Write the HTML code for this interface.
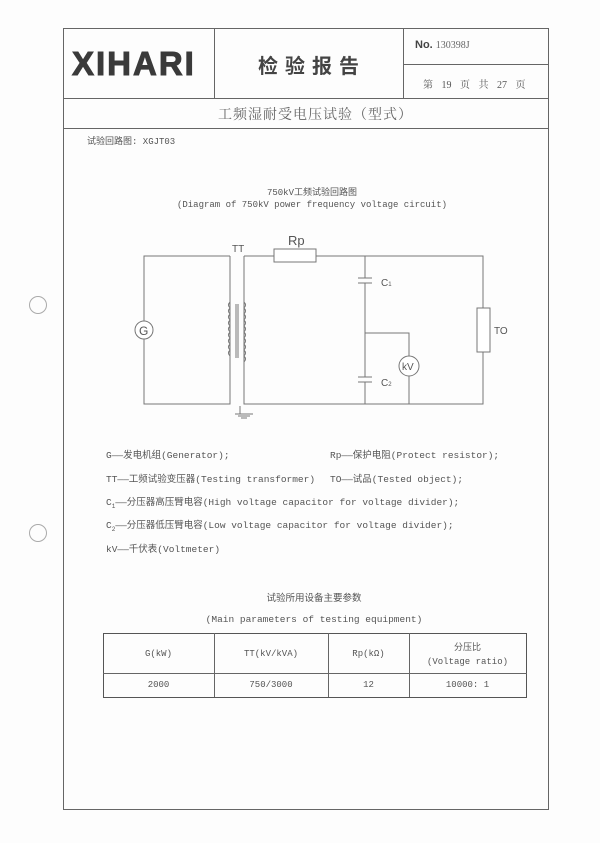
<!DOCTYPE html>
<html><head><meta charset="utf-8"><style>
body{margin:0;background:#fff;}
.p{position:relative;width:600px;height:843px;background:#fdfdfd;overflow:hidden;font-family:"Liberation Mono","Noto Sans CJK SC",monospace;color:#555;}
.a{position:absolute;white-space:nowrap;}
.l{position:absolute;background:#666;}
.s{font-family:"Liberation Serif","Noto Serif CJK SC",serif;}
</style></head><body><div class="p">
<div class="a" style="left:29px;top:296px;width:16px;height:16px;border:1px solid #aaa;border-radius:50%"></div>
<div class="a" style="left:29px;top:524px;width:16px;height:16px;border:1px solid #aaa;border-radius:50%"></div>
<div class="a" style="left:63px;top:28px;width:484px;height:780px;border:1px solid #666"></div>
<div class="l" style="left:63px;top:98px;width:486px;height:1px"></div>
<div class="l" style="left:63px;top:128px;width:486px;height:1px"></div>
<div class="l" style="left:214px;top:28px;width:1px;height:70px"></div>
<div class="l" style="left:403px;top:28px;width:1px;height:70px"></div>
<div class="l" style="left:403px;top:64px;width:145px;height:1px"></div>
<div class="a" style="left:72px;top:44px;font:900 33px/40px 'Liberation Sans',sans-serif;color:#3a3a3a;letter-spacing:2px;-webkit-text-stroke:1px #3a3a3a">XIHARI</div>
<div class="a" style="left:258px;top:50px;font:bold 20px 'Noto Sans CJK SC',sans-serif;color:#444;letter-spacing:7px">检验报告</div>
<div class="a" style="left:415px;top:39px;font:bold 11px 'Liberation Sans',sans-serif;color:#444">No. <span class="s" style="font-weight:normal;font-size:10px;color:#666">130398J</span></div>
<div class="a s" style="left:423px;top:76px;font-size:10px;word-spacing:6px">第 19 页 共 27 页</div>
<div class="a s" style="left:218px;top:104px;font-size:14px;letter-spacing:1px;color:#666">工频湿耐受电压试验（型式）</div>
<div class="a" style="left:87px;top:134px;font-size:9px">试验回路图: XGJT03</div>
<div class="a" style="left:0;width:600px;text-align:center;top:185px;font-size:9px;margin-left:12px">750kV工频试验回路图</div>
<div class="a" style="left:0;width:600px;text-align:center;top:200px;font-size:9px;margin-left:12px">(Diagram of 750kV power frequency voltage circuit)</div>
<svg class="a" style="left:0;top:0" width="600" height="843">
<g stroke="#777" stroke-width="1" fill="none">
<path d="M230 256H144V404H230V256"/>
<circle cx="144" cy="330" r="9" fill="#fff"/>
<path d="M244 256V404H483V256H316M274 256H244"/>
<rect x="274" y="249" width="42" height="13" fill="#fff"/>
<line x1="236" y1="304" x2="236" y2="358"/><line x1="238" y1="304" x2="238" y2="358"/>
<path d="M230 302q-3 3 0 6q-3 3 0 6q-3 3 0 6q-3 3 0 6q-3 3 0 6q-3 3 0 6q-3 3 0 6q-3 3 0 6q-3 3 0 6"/>
<path d="M244 302q3 3 0 6q3 3 0 6q3 3 0 6q3 3 0 6q3 3 0 6q3 3 0 6q3 3 0 6q3 3 0 6q3 3 0 6q3 3 0 6"/>
<path d="M365 256V278M365 283V377M365 382V404"/>
<line x1="358" y1="278" x2="372" y2="278"/><line x1="358" y1="283" x2="372" y2="283"/>
<line x1="358" y1="377" x2="372" y2="377"/><line x1="358" y1="382" x2="372" y2="382"/>
<path d="M365 333H409V404"/>
<circle cx="409" cy="366" r="10" fill="#fff"/>
<rect x="477" y="308" width="13" height="44" fill="#fff"/>
<path d="M240 406V414M235 414H253M238 416H250M241 418H247"/>
</g>
<g font-family="Liberation Sans,sans-serif" fill="#555">
<text x="139" y="335" font-size="12">G</text>
<text x="232" y="252" font-size="10">TT</text>
<text x="288" y="245" font-size="13">Rp</text>
<text x="381" y="286" font-size="10">C<tspan font-size="6">1</tspan></text>
<text x="381" y="386" font-size="10">C<tspan font-size="6">2</tspan></text>
<text x="402" y="370" font-size="10">kV</text>
<text x="494" y="334" font-size="10">TO</text>
</g>
</svg>
<div class="a" style="left:106px;top:447px;font-size:9.5px">G——发电机组(Generator);</div>
<div class="a" style="left:330px;top:447px;font-size:9.5px">Rp——保护电阻(Protect resistor);</div>
<div class="a" style="left:106px;top:471px;font-size:9.5px">TT——工频试验变压器(Testing transformer)</div>
<div class="a" style="left:330px;top:471px;font-size:9.5px">TO——试品(Tested object);</div>
<div class="a" style="left:106px;top:494px;font-size:9.5px">C<sub style="font-size:6px">1</sub>——分压器高压臂电容(High voltage capacitor for voltage divider);</div>
<div class="a" style="left:106px;top:517px;font-size:9.5px">C<sub style="font-size:6px">2</sub>——分压器低压臂电容(Low voltage capacitor for voltage divider);</div>
<div class="a" style="left:106px;top:541px;font-size:9.5px">kV——千伏表(Voltmeter)</div>
<div class="a" style="left:0;width:600px;text-align:center;top:590px;font-size:9.5px;margin-left:14px">试验所用设备主要参数</div>
<div class="a" style="left:0;width:600px;text-align:center;top:614px;font-size:9.5px;margin-left:14px">(Main parameters of testing equipment)</div>
<div class="a" style="left:103px;top:633px;width:422px;height:63px;border:1px solid #555"></div>
<div class="l" style="left:103px;top:673px;width:424px;height:1px"></div>
<div class="l" style="left:214px;top:633px;width:1px;height:64px"></div>
<div class="l" style="left:328px;top:633px;width:1px;height:64px"></div>
<div class="l" style="left:409px;top:633px;width:1px;height:64px"></div>
<div class="a" style="left:103px;width:111px;text-align:center;top:649px;font-size:9px">G(kW)</div>
<div class="a" style="left:214px;width:114px;text-align:center;top:649px;font-size:9px">TT(kV/kVA)</div>
<div class="a" style="left:328px;width:81px;text-align:center;top:649px;font-size:9px">Rp(kΩ)</div>
<div class="a" style="left:409px;width:117px;text-align:center;top:641px;font-size:9px;line-height:14px">分压比<br>(Voltage ratio)</div>
<div class="a" style="left:103px;width:111px;text-align:center;top:680px;font-size:9px">2000</div>
<div class="a" style="left:214px;width:114px;text-align:center;top:680px;font-size:9px">750/3000</div>
<div class="a" style="left:328px;width:81px;text-align:center;top:680px;font-size:9px">12</div>
<div class="a" style="left:409px;width:117px;text-align:center;top:680px;font-size:9px">10000: 1</div>
</div></body></html>
